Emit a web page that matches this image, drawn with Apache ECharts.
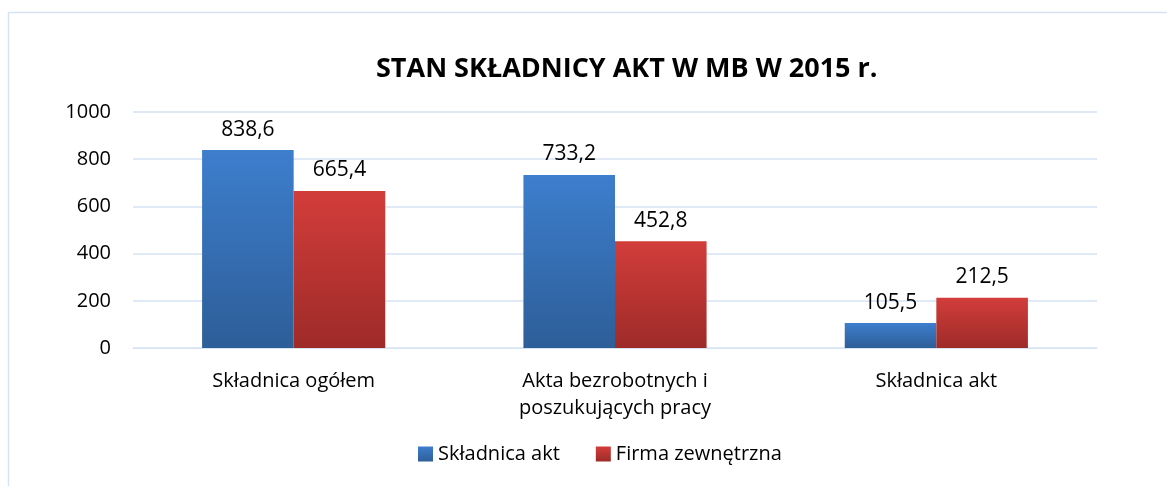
<!DOCTYPE html>
<html><head><meta charset="utf-8">
<script src="https://cdn.jsdelivr.net/npm/echarts@6/dist/echarts.min.js"></script>
<style>html,body{margin:0;padding:0;background:#fff}#c{width:1167px;height:486px}</style>
</head><body><div id="c"></div>
<script>
const categories = ['Składnica ogółem', 'Akta bezrobotnych i\nposzukujących pracy', 'Składnica akt'];
const seriesNames = ['Składnica akt', 'Firma zewnętrzna'];
const skladnicaAkt = [838.6, 733.2, 105.5];
const firmaZewnetrzna = [665.4, 452.8, 212.5];
const titleText = 'STAN SKŁADNICY AKT W MB W 2015 r.';

const font = 'Open Sans';
const chart = echarts.init(document.getElementById('c'));
function grad(top, bottom){
  return new echarts.graphic.LinearGradient(0,0,0,1,[{offset:0,color:top},{offset:1,color:bottom}]);
}
const lbl = {show:true, position:'top', distance:10, fontFamily:font, fontSize:21, color:'#000',
  formatter: p => String(p.value.toFixed(1)).replace('.', ',')};
chart.setOption({
  animation:false,
  graphic:[{type:'rect', shape:{x:8.5,y:12.5,width:1200,height:500}, style:{fill:'none', stroke:'#D6E3F3', lineWidth:1.5}}],
  title:{text:titleText, left:371, top:51, textStyle:{fontFamily:font, fontWeight:'bold', fontSize:27, color:'#000'}},
  legend:{bottom:17, left:413, itemWidth:15, itemHeight:15, itemGap:36, icon:'rect',
    textStyle:{fontFamily:font, fontSize:20, color:'#000'}, data:seriesNames},
  grid:{left:133, right:70, top:112, bottom:138, containLabel:false},
  xAxis:{type:'category', data:categories, axisLine:{lineStyle:{color:'#D6E3F3'}}, axisTick:{show:false},
    axisLabel:{fontFamily:font, fontSize:20, color:'#000', margin:20, lineHeight:27}},
  yAxis:{type:'value', min:0, max:1000, interval:200, axisLine:{show:false}, axisTick:{show:false},
    splitLine:{lineStyle:{color:'#D6E3F3', width:1.5}},
    axisLabel:{fontFamily:font, fontSize:20, color:'#000', margin:22, formatter: v => String(v)}},
  series:[
    {name:seriesNames[0], type:'bar', data:skladnicaAkt, barGap:'0%', barCategoryGap:'43%',
      itemStyle:{color:grad('#3D7ECD','#2D5E98')}, label:lbl},
    {name:seriesNames[1], type:'bar', data:firmaZewnetrzna,
      itemStyle:{color:grad('#D23D3A','#9E2B29')}, label:lbl}
  ]
});
</script></body></html>
